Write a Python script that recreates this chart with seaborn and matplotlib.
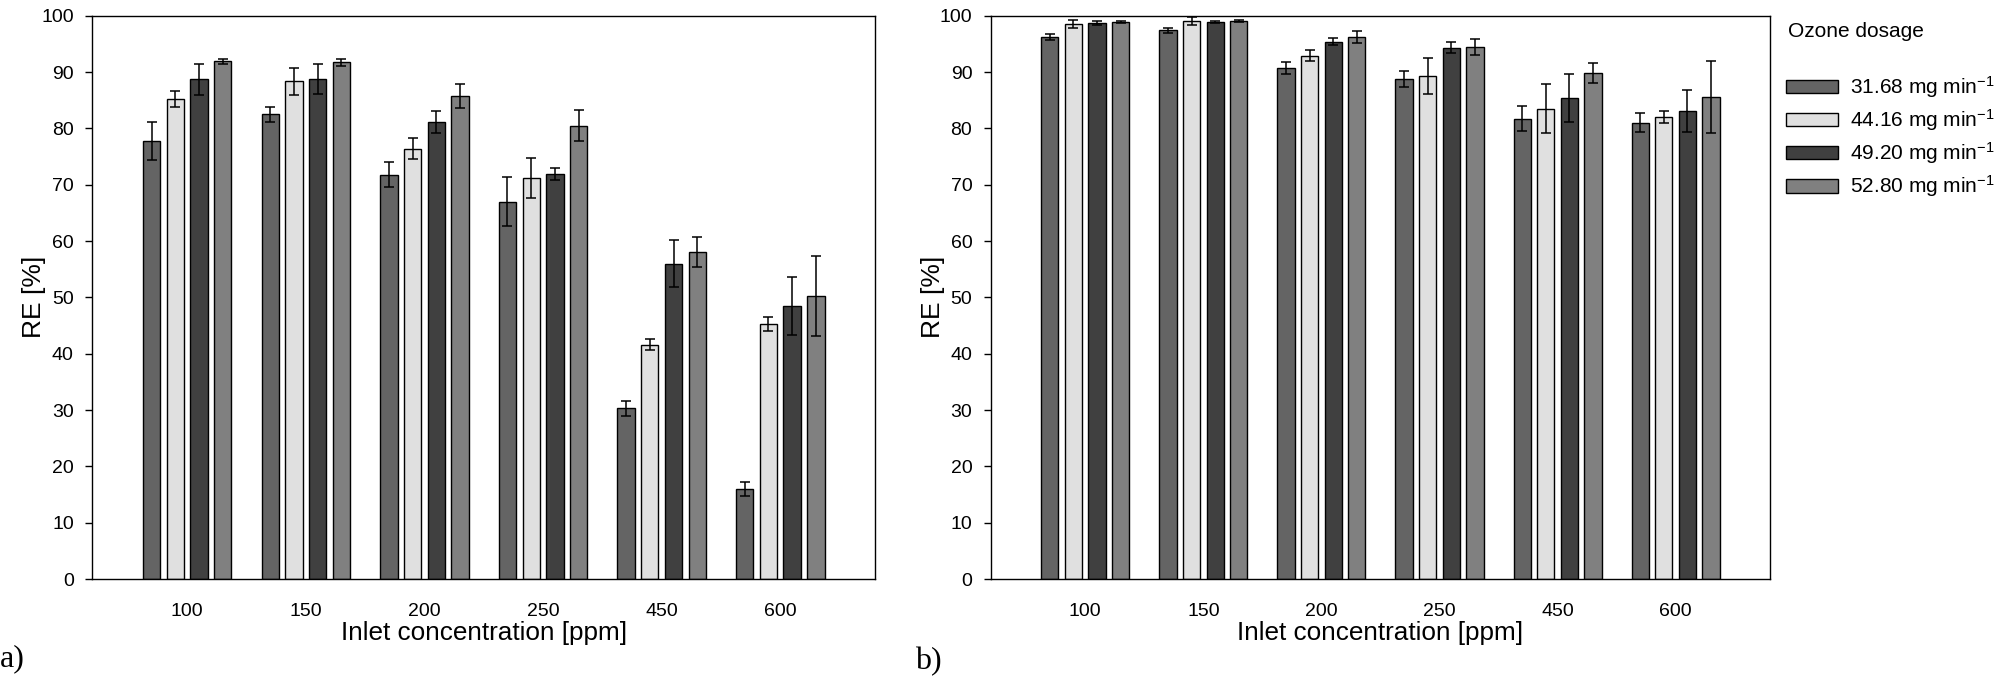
import pandas as pd
import seaborn as sns
import matplotlib.pyplot as plt
from matplotlib.patches import Patch
from matplotlib import font_manager

# data
concentrations = ['100', '150', '200', '250', '450', '600']
doses = ['31.68', '44.16', '49.20', '52.80']
colors = ['#646464', '#e0e0e0', '#404040', '#808080']

# panel a) removal efficiency, one list per ozone dosage
re_a = [
    [77.7, 82.5, 71.8, 67.0, 30.3, 16.0],
    [85.2, 88.4, 76.4, 71.2, 41.6, 45.3],
    [88.7, 88.8, 81.1, 71.9, 56.0, 48.5],
    [91.9, 91.7, 85.7, 80.5, 58.1, 50.2],
]
err_a = [
    [3.4, 1.3, 2.2, 4.3, 1.3, 1.3],
    [1.4, 2.4, 1.9, 3.6, 1.0, 1.2],
    [2.7, 2.7, 1.9, 1.1, 4.1, 5.1],
    [0.4, 0.7, 2.1, 2.8, 2.7, 7.1],
]

# panel b)
re_b = [
    [96.2, 97.4, 90.7, 88.7, 81.7, 81.0],
    [98.5, 99.1, 92.9, 89.3, 83.5, 82.0],
    [98.7, 98.9, 95.4, 94.3, 85.4, 83.1],
    [98.9, 99.1, 96.2, 94.4, 89.8, 85.5],
]
err_b = [
    [0.5, 0.5, 1.1, 1.4, 2.2, 1.7],
    [0.7, 0.7, 1.0, 3.2, 4.3, 1.0],
    [0.4, 0.2, 0.6, 1.0, 4.2, 3.7],
    [0.2, 0.2, 1.1, 1.4, 1.8, 6.4],
]

plt.rcParams['font.family'] = ['Liberation Sans', 'DejaVu Sans']
plt.rcParams['mathtext.default'] = 'regular'

installed = {f.name for f in font_manager.fontManager.ttflist}
narrow = 'Liberation Sans Narrow' if 'Liberation Sans Narrow' in installed else 'Liberation Sans'


def long_table(values):
    rows = []
    for d, series in zip(doses, values):
        for c, v in zip(concentrations, series):
            rows.append({'conc': c, 'dose': d, 're': v})
    return pd.DataFrame(rows)


def draw_panel(ax, values, errors, tick_font):
    df = long_table(values)
    sns.barplot(data=df, x='conc', y='re', hue='dose', order=concentrations,
                hue_order=doses, palette=dict(zip(doses, colors)), errorbar=None,
                width=0.8, gap=0.27, edgecolor='black', linewidth=1.0,
                legend=False, ax=ax)
    for cont, err in zip(ax.containers, errors):
        xs = [b.get_x() + b.get_width() / 2 for b in cont.patches]
        ys = [b.get_height() for b in cont.patches]
        ax.errorbar(xs, ys, yerr=err, fmt='none', ecolor='black',
                    elinewidth=1.1, capsize=3.6, capthick=1.1, zorder=5)
    ax.set_xlim(-0.8, 5.8)
    ax.set_ylim(0, 100)
    ax.set_yticks(range(0, 101, 10))
    ax.tick_params(axis='y', length=5.3, width=1, pad=8, labelsize=14)
    ax.tick_params(axis='x', length=0, pad=17, labelsize=14)
    for lab in ax.get_xticklabels():
        lab.set_fontfamily(tick_font)
    for s in ax.spines.values():
        s.set_linewidth(1.0)
        s.set_color('black')
    ax.set_xlabel('Inlet concentration [ppm]', fontsize=18.8, family=tick_font)
    ax.xaxis.set_label_coords(0.5, -0.074)
    ax.set_ylabel('RE [%]', fontsize=19)
    ax.yaxis.set_label_coords(-0.059, 0.5)


fig = plt.figure(figsize=(19.94, 6.78), dpi=100)
ax1 = fig.add_axes([0.0463, 0.146, 0.3926, 0.8308])
ax2 = fig.add_axes([0.4969, 0.146, 0.3908, 0.8308])

draw_panel(ax1, re_a, err_a, narrow)
draw_panel(ax2, re_b, err_b, 'Liberation Sans')

fig.text(0.0, 0.029, 'a)', family='Liberation Serif', fontsize=23, va='center', ha='left')
fig.text(0.459, 0.024, 'b)', family='Liberation Serif', fontsize=23, va='center', ha='left')

handles = [Patch(facecolor=c, edgecolor='black', linewidth=1.0) for c in colors]
labels = [d + ' mg min$^{-1}$' for d in doses]
fig.text(1788 / 1994, 1 - 31.7 / 678, 'Ozone dosage', fontsize=15, va='center', ha='left')
fig.legend(handles, labels, loc='upper left', bbox_to_anchor=(1786 / 1994, 1 - 74 / 678),
           frameon=False, fontsize=15, handlelength=2.48, handleheight=0.61,
           handletextpad=0.58, labelspacing=0.35, borderpad=0, borderaxespad=0)

fig.savefig('out.png', dpi=100)
